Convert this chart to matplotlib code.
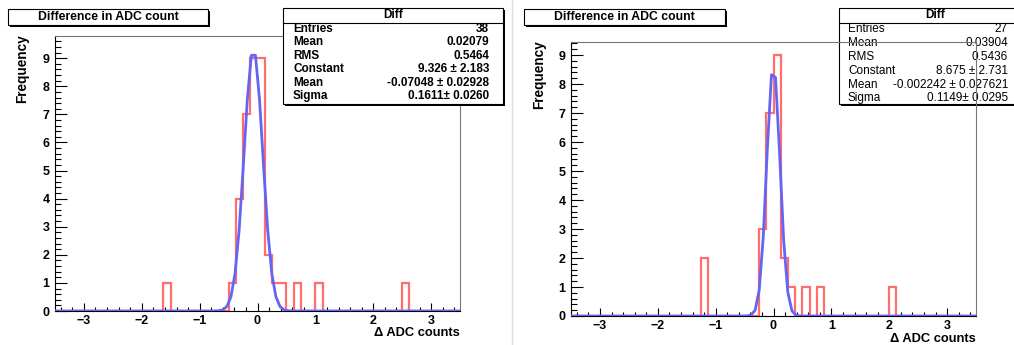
import numpy as np
import matplotlib
matplotlib.use("Agg")
import matplotlib.pyplot as plt
import matplotlib.patches as patches
from matplotlib.ticker import MultipleLocator

plt.rcParams['font.family'] = ['Liberation Sans', 'DejaVu Sans']

# ---- data ----
bin_edges = np.linspace(-3.5, 3.5, 57)   # 56 bins of 0.125

left_centers = [-1.5625, -0.4375, -0.3125, -0.1875, -0.0625, 0.0625,
                0.1875, 0.3125, 0.4375, 0.6875, 1.0625, 2.5625]
left_counts = [1, 1, 4, 7, 9, 9, 2, 1, 1, 1, 1, 1]
left_fit = (9.326, -0.07048, 0.1611)   # constant, mean, sigma
left_stats = [("Entries", "38"), ("Mean", "0.02079"), ("RMS", "0.5464"),
              ("Constant", "9.326 \u00b1 2.183"), ("Mean", "-0.07048 \u00b1 0.02928"),
              ("Sigma", "0.1611\u00b1 0.0260")]

right_centers = [-1.1875, -0.1875, -0.0625, 0.0625, 0.1875, 0.3125,
                 0.5625, 0.8125, 2.0625]
right_counts = [2, 3, 7, 9, 2, 1, 1, 1, 1]
right_fit = (8.675, -0.002242, 0.1149)
right_stats = [("Entries", "27"), ("Mean", "0.03904"), ("RMS", "0.5436"),
               ("Constant", "8.675 \u00b1 2.731"), ("Mean", "-0.002242 \u00b1 0.027621"),
               ("Sigma", "0.1149\u00b1 0.0295")]

title = "Difference in ADC count"
xlabel = "\u0394 ADC counts"
ylabel = "Frequency"

W, H = 1014, 345
fig = plt.figure(figsize=(W / 100, H / 100), dpi=100)


def fx(px):
    return px / W


def fy(py):
    return 1 - py / H


def box(x0, y0, x1, y1, z=2, shadow=2):
    # ROOT style box with a drop shadow
    sh = patches.Rectangle((fx(x0 + shadow), fy(y1 + shadow)), fx(x1 - x0), (y1 - y0) / H,
                           transform=fig.transFigure, facecolor='black',
                           edgecolor='none', zorder=z)
    bx = patches.Rectangle((fx(x0), fy(y1)), fx(x1 - x0), (y1 - y0) / H,
                           transform=fig.transFigure, facecolor='white',
                           edgecolor='black', lw=0.8, zorder=z + 0.1)
    fig.add_artist(sh)
    fig.add_artist(bx)


def panel(rect, centers, counts, fit, ymax):
    l, t, r, b = rect
    ax = fig.add_axes([fx(l), fy(b), fx(r - l), (b - t) / H])
    ax.patch.set_alpha(0)
    ax.hist(centers, bins=bin_edges, weights=counts, histtype='step',
            color='#ff6e6e', lw=1.6, zorder=2)
    xs = np.linspace(-3.5, 3.5, 100)
    c, m, s = fit
    ax.plot(xs, c * np.exp(-0.5 * ((xs - m) / s) ** 2), color='#6464f5', lw=2, zorder=3)
    ax.set_xlim(-3.5, 3.5)
    ax.set_ylim(0, ymax)
    ax.set_xticks(range(-3, 4))
    ax.set_yticks(range(0, 10))
    ax.xaxis.set_minor_locator(MultipleLocator(0.2))
    ax.yaxis.set_minor_locator(MultipleLocator(0.2))
    ax.tick_params(direction='in', top=False, right=False, which='both', width=0.8)
    ax.tick_params(axis='x', which='major', length=5.8, pad=3)
    ax.tick_params(axis='x', which='minor', length=2.9)
    ax.tick_params(axis='y', which='major', length=8.6, pad=4)
    ax.tick_params(axis='y', which='minor', length=4.3)
    for lab in ax.get_xticklabels() + ax.get_yticklabels():
        lab.set_fontweight('bold')
        lab.set_fontsize(9)
    for sp in ['top', 'right']:
        ax.spines[sp].set_color('#777777')
        ax.spines[sp].set_linewidth(0.8)
    for sp in ['left', 'bottom']:
        ax.spines[sp].set_linewidth(0.8)
    return ax


# separator of the second picture
fig.add_artist(plt.Line2D([fx(512), fx(512)], [0, 1], transform=fig.transFigure,
                          color='#dddddd', lw=1))

# ---- left panel ----
panel((55, 36, 460, 311), left_centers, left_counts, left_fit, 9.79)
box(8, 9, 208, 25, z=5)
fig.text(fx(108), fy(17), title, ha='center', va='center', fontsize=8.8,
         fontweight='bold', zorder=6)
fig.text(fx(22), fy(34), ylabel, rotation=90, ha='center', va='top',
         fontsize=9.8, fontweight='bold')
fig.text(fx(460), fy(333), xlabel, ha='right', va='center', fontsize=9.3, fontweight='bold')

box(283, 8, 503, 104, z=5)
fig.add_artist(plt.Line2D([fx(283), fx(503)], [fy(22.7), fy(22.7)],
                          transform=fig.transFigure, color='black', lw=0.8, zorder=6))
fig.text(fx(393), fy(15.5), "Diff", ha='center', va='center', fontsize=8.5,
         fontweight='bold', zorder=6)
for i, (k, v) in enumerate(left_stats):
    yy = 29 + i * 13.4
    fig.text(fx(293), fy(yy), k, ha='left', va='center', fontsize=8.5,
             fontweight='bold', zorder=6)
    fig.text(fx(489), fy(yy), v, ha='right', va='center', fontsize=8.5,
             fontweight='bold', zorder=6)

# ---- right panel ----
panel((571, 42, 976, 316), right_centers, right_counts, right_fit, 9.45)
box(524, 9, 725, 25, z=5)
fig.text(fx(624), fy(17), title, ha='center', va='center', fontsize=8.8,
         fontweight='bold', zorder=6)
fig.text(fx(539), fy(40), ylabel, rotation=90, ha='center', va='top',
         fontsize=9.8, fontweight='bold')
fig.text(fx(976), fy(339), xlabel, ha='right', va='center', fontsize=9.3, fontweight='bold')

# stats box sits under the frame lines here
box(839, 8, 1031, 104, z=-2)
fig.add_artist(plt.Line2D([fx(839), fx(1031)], [fy(22.7), fy(22.7)],
                          transform=fig.transFigure, color='black', lw=0.8, zorder=-1))
fig.text(fx(935), fy(15.5), "Diff", ha='center', va='center', fontsize=8.5,
         fontweight='bold', zorder=-1)
for i, (k, v) in enumerate(right_stats):
    yy = 29.3 + i * 13.8
    fig.text(fx(848), fy(yy), k, ha='left', va='center', fontsize=8.5, zorder=-1)
    fig.text(fx(1008), fy(yy), v, ha='right', va='center', fontsize=8.5, zorder=-1)

fig.savefig("out.png", dpi=100, facecolor='white')
